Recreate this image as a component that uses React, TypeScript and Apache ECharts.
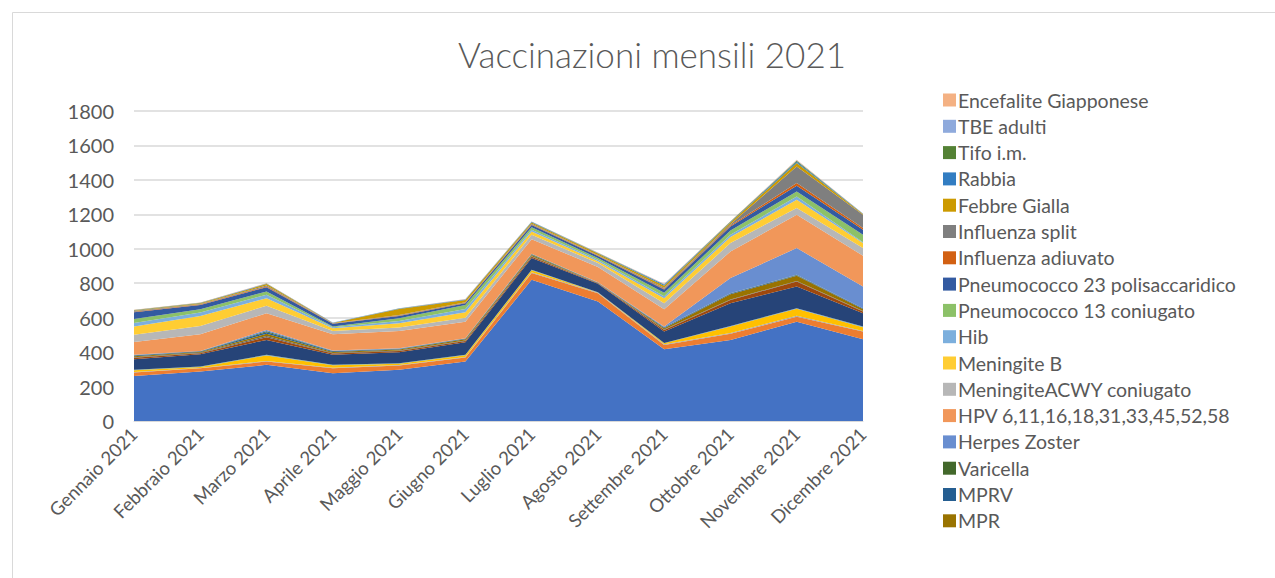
import React, { useEffect, useRef } from "react";
import * as echarts from "echarts";

const months = [
  "Gennaio 2021", "Febbraio 2021", "Marzo 2021", "Aprile 2021", "Maggio 2021", "Giugno 2021",
  "Luglio 2021", "Agosto 2021", "Settembre 2021", "Ottobre 2021", "Novembre 2021", "Dicembre 2021",
];

const yTicks = [0, 200, 400, 600, 800, 1000, 1200, 1400, 1600, 1800];

// series (bottom to top); first nine have no legend entry in the reference
const serie1 = [262, 287, 326, 277, 297, 345, 820, 694, 417, 471, 577, 475];
const serie2 = [19, 19, 19, 29, 25, 23, 39, 48, 25, 35, 29, 44];
const serie3 = [4, 2, 4, 3, 3, 3, 4, 2, 3, 5, 5, 4];
const serie4 = [9, 6, 32, 15, 8, 11, 12, 2, 6, 38, 41, 22];
const serie5 = [2, 1, 2, 1, 1, 1, 2, 1, 1, 2, 2, 2];
const serie6 = [1, 1, 1, 1, 1, 1, 1, 1, 1, 1, 1, 1];
const serie7 = [62, 72, 87, 58, 64, 73, 68, 49, 66, 132, 126, 78];
const serie8 = [8, 6, 15, 8, 8, 8, 8, 3, 9, 19, 29, 10];
const serie9 = [3, 2, 8, 3, 3, 3, 3, 1, 3, 3, 3, 3];
const mpr = [6, 5, 12, 6, 5, 6, 7, 2, 8, 30, 30, 12];
const mprv = [4, 3, 10, 4, 3, 3, 3, 1, 4, 4, 4, 3];
const varicella = [2, 1, 5, 2, 2, 2, 2, 0, 2, 2, 2, 1];
const herpesZoster = [2, 2, 8, 2, 2, 2, 2, 1, 3, 88, 155, 126];
const hpv = [75, 97, 97, 95, 101, 96, 85, 89, 101, 154, 194, 178];
const meningiteACWY = [42, 48, 43, 19, 20, 23, 25, 23, 35, 49, 39, 45];
const meningiteB = [48, 58, 44, 16, 25, 32, 20, 11, 29, 35, 48, 29];
const hib = [20, 20, 20, 5, 13, 19, 9, 8, 12, 13, 19, 5];
const pneumo13 = [23, 19, 19, 5, 16, 23, 15, 10, 20, 25, 29, 43];
const pneumo23 = [39, 24, 25, 15, 13, 10, 13, 12, 19, 24, 33, 29];
const influenzaAdiuvato = [3, 3, 4, 2, 3, 3, 3, 3, 4, 5, 16, 10];
const influenzaSplit = [4, 4, 6, 1, 2, 3, 4, 3, 6, 8, 96, 78];
const febbreGialla = [4, 4, 8, 2, 35, 13, 8, 8, 12, 10, 20, 4];
const rabbia = [1, 1, 2, 1, 2, 2, 2, 2, 5, 3, 8, 1];
const tifo = [1, 1, 1, 1, 1, 1, 2, 2, 2, 2, 5, 1];
const tbeAdulti = [1, 1, 1, 1, 1, 1, 1, 1, 2, 1, 3, 1];
const encefalite = [1, 1, 1, 0, 1, 1, 1, 1, 2, 1, 3, 0];

const seriesDefs: { name: string; data: number[]; color: string }[] = [
  { name: "Serie 1", data: serie1, color: "#4472C4" },
  { name: "Serie 2", data: serie2, color: "#ED7D31" },
  { name: "Serie 3", data: serie3, color: "#A5A5A5" },
  { name: "Serie 4", data: serie4, color: "#FFC000" },
  { name: "Serie 5", data: serie5, color: "#5B9BD5" },
  { name: "Serie 6", data: serie6, color: "#70AD47" },
  { name: "Serie 7", data: serie7, color: "#264478" },
  { name: "Serie 8", data: serie8, color: "#9E480E" },
  { name: "Serie 9", data: serie9, color: "#636363" },
  { name: "MPR", data: mpr, color: "#997300" },
  { name: "MPRV", data: mprv, color: "#255E91" },
  { name: "Varicella", data: varicella, color: "#43682B" },
  { name: "Herpes Zoster", data: herpesZoster, color: "#698ED0" },
  { name: "HPV 6,11,16,18,31,33,45,52,58", data: hpv, color: "#F1975A" },
  { name: "MeningiteACWY coniugato", data: meningiteACWY, color: "#B7B7B7" },
  { name: "Meningite B", data: meningiteB, color: "#FFCD33" },
  { name: "Hib", data: hib, color: "#7CAFDD" },
  { name: "Pneumococco 13 coniugato", data: pneumo13, color: "#8CC168" },
  { name: "Pneumococco 23 polisaccaridico", data: pneumo23, color: "#335AA1" },
  { name: "Influenza adiuvato", data: influenzaAdiuvato, color: "#D26012" },
  { name: "Influenza split", data: influenzaSplit, color: "#7F7F7F" },
  { name: "Febbre Gialla", data: febbreGialla, color: "#CC9A00" },
  { name: "Rabbia", data: rabbia, color: "#327DC2" },
  { name: "Tifo i.m.", data: tifo, color: "#548235" },
  { name: "TBE adulti", data: tbeAdulti, color: "#8FAADC" },
  { name: "Encefalite Giapponese", data: encefalite, color: "#F4B183" },
];

const legendNames = seriesDefs.slice(9).map((s) => s.name).reverse();

const FONT = "Lato, 'Open Sans', sans-serif";
const TXT = "#595959";

export default function App() {
  const ref = useRef<HTMLDivElement>(null);
  useEffect(() => {
    if (!ref.current) return;
    const chart = echarts.init(ref.current, undefined, { renderer: "svg" });
    chart.setOption({
      animation: false,
      backgroundColor: "#ffffff",
      textStyle: { fontFamily: FONT },
      title: {
        text: "Vaccinazioni mensili 2021",
        left: 647,
        top: 31,
        textAlign: "center",
        textStyle: { fontFamily: FONT, fontSize: 35, fontWeight: 300, color: TXT },
      },
      graphic: [
        {
          type: "rect",
          shape: { x: 12.5, y: 12.5, width: 1300, height: 600 },
          style: { fill: "none", stroke: "#d9d9d9", lineWidth: 1 },
          silent: true,
        },
      ],
      legend: {
        orient: "vertical",
        left: 938,
        top: 85,
        data: legendNames,
        icon: "rect",
        itemWidth: 13,
        itemHeight: 13,
        itemGap: 6.3,
        textStyle: { fontFamily: FONT, fontSize: 19.5, color: TXT, lineHeight: 19.3, padding: [0, 0, 0, -3] },
      },
      grid: { left: 134, right: 412, top: 111, bottom: 157, containLabel: false },
      xAxis: {
        type: "category",
        data: months,
        boundaryGap: false,
        axisLine: { lineStyle: { color: "#d9d9d9", width: 1 } },
        axisTick: { show: false },
        axisLabel: { rotate: 45, fontFamily: FONT, fontSize: 18.5, color: TXT, margin: 10, interval: 0 },
        splitLine: { show: false },
      },
      yAxis: {
        type: "value",
        min: yTicks[0],
        max: yTicks[yTicks.length - 1],
        interval: 200,
        axisLine: { show: false },
        axisTick: { show: false },
        axisLabel: {
          fontFamily: FONT,
          fontSize: 20,
          color: TXT,
          margin: 20,
          formatter: (v: number) => String(v),
        },
        splitLine: { lineStyle: { color: "#d9d9d9", width: 1.5 } },
      },
      series: seriesDefs.map((s) => ({
        name: s.name,
        type: "line",
        stack: "total",
        data: s.data,
        symbol: "none",
        lineStyle: { width: 0 },
        areaStyle: { color: s.color, opacity: 1 },
        itemStyle: { color: s.color },
      })),
    });
    return () => chart.dispose();
  }, []);
  return (
    <div
      ref={ref}
      style={{ position: "fixed", left: 0, top: 0, width: 1275, height: 578 }}
    />
  );
}
